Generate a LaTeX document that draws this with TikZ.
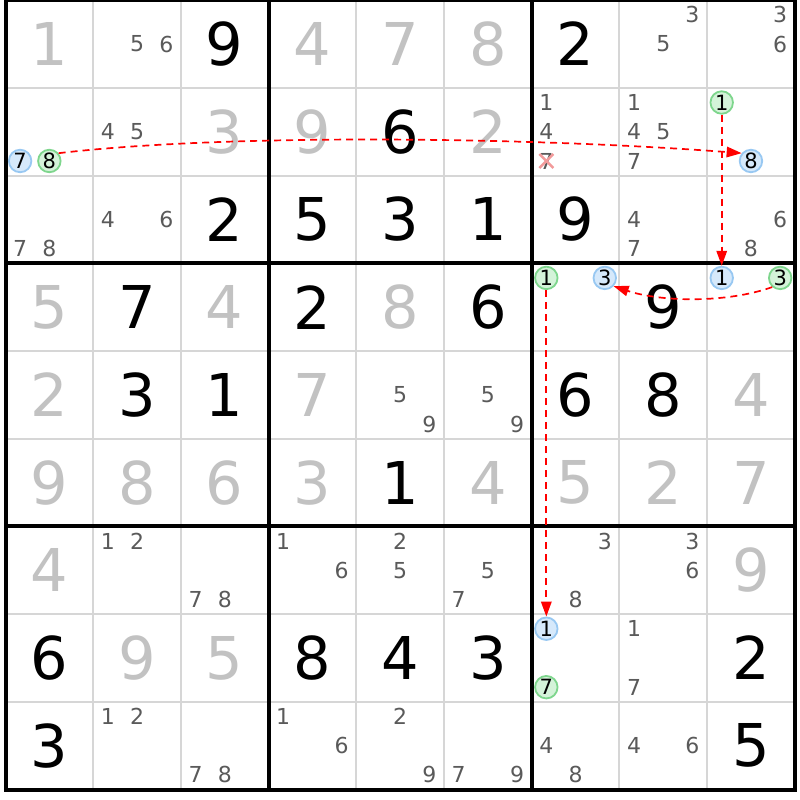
\documentclass[tikz,border=0pt]{standalone}
\usepackage{fontspec}
\setmainfont{DejaVu Sans}
\usetikzlibrary{arrows.meta}
\definecolor{thingrid}{HTML}{D6D6D6}
\definecolor{solvedgray}{HTML}{C2C2C2}
\definecolor{candgray}{HTML}{5A5A5A}
\definecolor{bluefl}{HTML}{D6E9FB}
\definecolor{bluebd}{HTML}{98C8F2}
\definecolor{greenfl}{HTML}{D4F3D9}
\definecolor{greenbd}{HTML}{7ED68D}
\definecolor{xpink}{HTML}{F29A9A}
\begin{document}
\begin{tikzpicture}[x=1pt,y=-1pt,
  given/.style={font=\fontsize{59}{61}\selectfont, inner sep=0pt, text=black},
  solved/.style={given, text=solvedgray},
  cand/.style={font=\fontsize{22}{23}\selectfont, inner sep=0pt, text=candgray},
  ringbase/.style={circle, line width=1.8pt, minimum size=22.5pt, inner sep=0pt,
    font=\fontsize{21}{22}\selectfont, text=black},
  bluec/.style={ringbase, draw=bluebd, fill=bluefl},
  greenc/.style={ringbase, draw=greenbd, fill=greenfl},
  thinline/.style={draw=thingrid, line width=2pt},
  thickline/.style={draw=black, line width=4pt, line cap=rect},
  chain/.style={draw=red, line width=1.7pt, dash pattern=on 7pt off 5pt,
    -{Triangle[length=15pt,width=10.5pt]}},
  xmark/.style={draw=xpink, line width=2.4pt}
]
\def\L{5.5}\def\T{0.2}\def\S{87.7}\def\s{29.2333}
\useasboundingbox (0,0) rectangle (800,800);
\fill[white] (0,0) rectangle (800,800);
% thin grid
\foreach \i in {1,2,4,5,7,8} {
  \draw[thinline] ({\L+\i*\S},\T) -- ({\L+\i*\S},{\T+9*\S});
  \draw[thinline] (\L,{\T+\i*\S}) -- ({\L+9*\S},{\T+\i*\S});
}
% thick grid
\foreach \i in {0,3,6,9} {
  \draw[thickline] ({\L+\i*\S},\T) -- ({\L+\i*\S},{\T+9*\S});
  \draw[thickline] (\L,{\T+\i*\S}) -- ({\L+9*\S},{\T+\i*\S});
}
% given digits
\foreach \r/\c/\d in {0/2/9, 0/6/2, 1/4/6, 2/2/2, 2/3/5, 2/4/3, 2/5/1, 2/6/9, 3/1/7, 3/3/2, 3/5/6, 3/7/9, 4/1/3, 4/2/1, 4/6/6, 4/7/8, 5/4/1, 7/0/6, 7/3/8, 7/4/4, 7/5/3, 7/8/2, 8/0/3, 8/8/5}
  \node[given] (v-\r-\c) at ({\L+(\c+0.5)*\S},{\T+(\r+0.5)*\S}) {\d};
% solved digits
\foreach \r/\c/\d in {0/0/1, 0/3/4, 0/4/7, 0/5/8, 1/2/3, 1/3/9, 1/5/2, 3/0/5, 3/2/4, 3/4/8, 4/0/2, 4/3/7, 4/8/4, 5/0/9, 5/1/8, 5/2/6, 5/3/3, 5/5/4, 5/6/5, 5/7/2, 5/8/7, 6/0/4, 6/8/9, 7/1/9, 7/2/5}
  \node[solved] (v-\r-\c) at ({\L+(\c+0.5)*\S},{\T+(\r+0.5)*\S}) {\d};
% candidates
\foreach \r/\c/\d in {0/1/5, 0/1/6, 0/7/3, 0/7/5, 0/8/3, 0/8/6,
  1/1/4, 1/1/5, 1/6/1, 1/6/4, 1/6/7, 1/7/1, 1/7/4, 1/7/5, 1/7/7,
  2/0/7, 2/0/8, 2/1/4, 2/1/6, 2/7/4, 2/7/7, 2/8/6, 2/8/8,
  4/4/5, 4/4/9, 4/5/5, 4/5/9,
  6/1/1, 6/1/2, 6/2/7, 6/2/8, 6/3/1, 6/3/6, 6/4/2, 6/4/5, 6/5/5, 6/5/7, 6/6/3, 6/6/8, 6/7/3, 6/7/6,
  7/7/1, 7/7/7,
  8/1/1, 8/1/2, 8/2/7, 8/2/8, 8/3/1, 8/3/6, 8/4/2, 8/4/9, 8/5/7, 8/5/9, 8/6/4, 8/6/8, 8/7/4, 8/7/6} {
  \pgfmathtruncatemacro\k{mod(\d-1,3)}
  \pgfmathtruncatemacro\m{(\d-1)/3}
  \node[cand] (p-\r-\c-\d) at ({\L+\c*\S+(\k+0.5)*\s},{\T+\r*\S+(\m+0.5)*\s}) {\d};
}
% circled candidates
\foreach \r/\c/\d/\st in {1/0/7/bluec, 1/8/8/bluec, 3/6/3/bluec, 3/8/1/bluec, 7/6/1/bluec,
  1/0/8/greenc, 1/8/1/greenc, 3/6/1/greenc, 3/8/3/greenc, 7/6/7/greenc} {
  \pgfmathtruncatemacro\k{mod(\d-1,3)}
  \pgfmathtruncatemacro\m{(\d-1)/3}
  \node[\st] (k-\r-\c-\d) at ({\L+\c*\S+(\k+0.5)*\s},{\T+\r*\S+(\m+0.5)*\s}) {\d};
}
% eliminated candidate
\draw[xmark] (p-1-6-7.center) ++(-7,-7) -- ++(14,14);
\draw[xmark] (p-1-6-7.center) ++(7,-7) -- ++(-14,14);
% chains
\draw[chain] (k-1-0-8.40) .. controls +(170,-20) and +(-210,-16) .. (k-1-8-8.140);
\draw[chain] (k-1-8-1.south) -- (k-3-8-1.north);
\draw[chain] (k-3-8-3.229) .. controls +(-45,16) and +(48,16) .. (k-3-6-3.317);
\draw[chain] (k-3-6-1.south) -- (k-7-6-1.north);
\end{tikzpicture}
\end{document}
